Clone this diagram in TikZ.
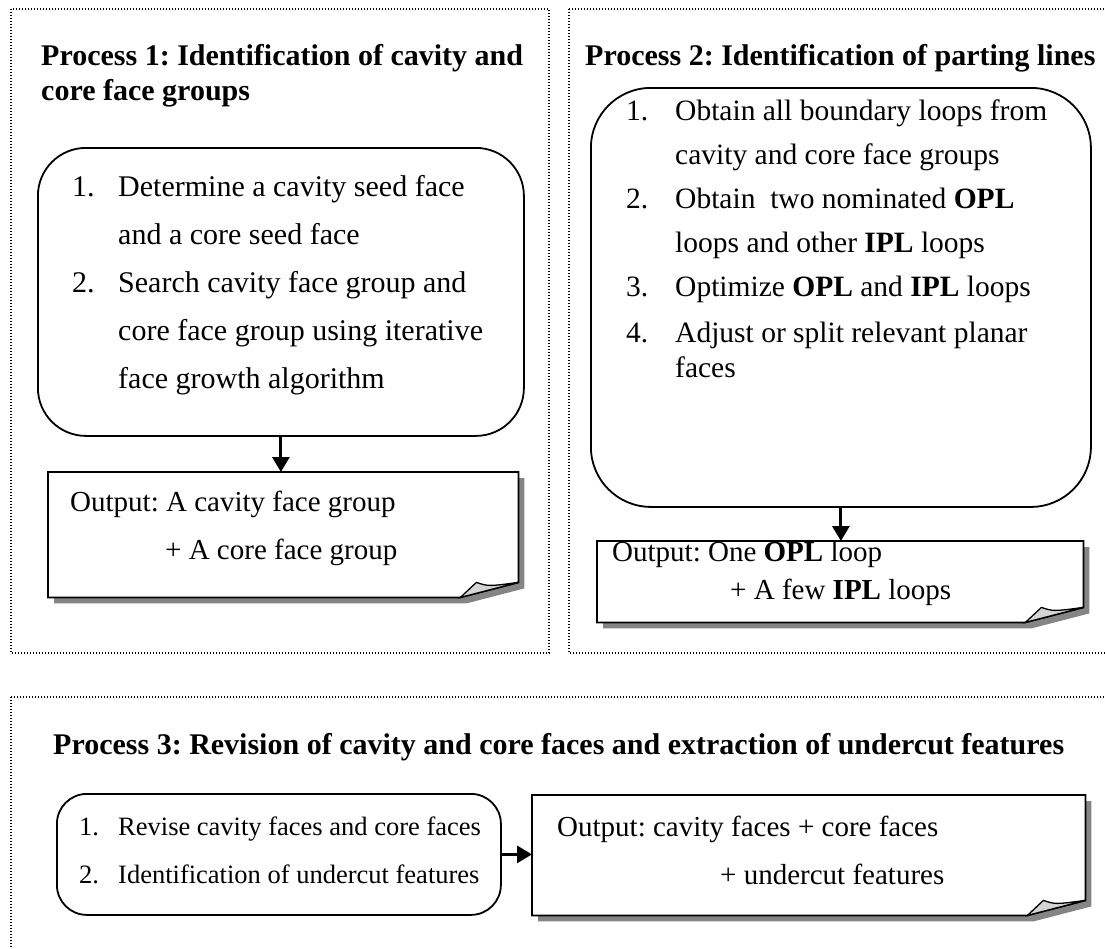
\documentclass[tikz,border=0pt]{standalone}
\usepackage{fontspec}
\setmainfont{Liberation Serif}
\usetikzlibrary{arrows.meta,calc}
\definecolor{shadowgray}{HTML}{858585}
\definecolor{foldgray}{HTML}{D4D4D4}
\frenchspacing
\tikzset{
  panel/.style={line width=1.4pt, dash pattern=on 1.4pt off 1.6pt},
  rbox/.style={draw, line width=1.8pt, anchor=north west, inner sep=0pt},
  frame/.style={anchor=north west, inner sep=0pt},
  txt/.style={anchor=base west, inner sep=0pt, font=\fontsize{29.5}{34}\selectfont},
  bigtxt/.style={anchor=base west, inner sep=0pt, font=\fontsize{30}{34}\selectfont},
  smalltxt/.style={anchor=base west, inner sep=0pt, font=\fontsize{26.5}{32}\selectfont},
  notetxt/.style={anchor=base west, inner sep=0pt, font=\fontsize{29}{34}\selectfont},
  ttl/.style={anchor=base west, inner sep=0pt, font=\fontsize{30}{36}\selectfont\bfseries},
  arr/.style={line width=3pt, -{Triangle[length=15pt,width=17pt]}},
}
\newcommand{\drawnote}[1]{%
  \fill[shadowgray] ([shift={(6,6)}]#1.north west) -- ([shift={(6,6)}]#1.north east)
     -- ([shift={(6,-9)}]#1.south east) -- ([shift={(-52,6)}]#1.south east)
     -- ([shift={(6,6)}]#1.south west) -- cycle;
  \draw[line width=1.8pt, fill=white] (#1.north west) -- (#1.north east)
     -- ([shift={(0,-15)}]#1.south east) -- ([shift={(-58,0)}]#1.south east)
     -- (#1.south west) -- cycle;
  \draw[line width=1.3pt, fill=foldgray] ([shift={(-58,0)}]#1.south east)
     -- ([shift={(-42,-15)}]#1.south east)
     .. controls ([shift={(-30,-11)}]#1.south east) .. ([shift={(0,-15)}]#1.south east) -- cycle;
}
\begin{document}
\begin{tikzpicture}[x=1pt,y=-1pt]
\useasboundingbox (0,0) rectangle (1105,948);
\clip (0,0) rectangle (1105,948);
% panels
\draw[panel] (11,9) rectangle (549,653);
\draw[panel] (569,9) rectangle (1115,653);
\draw[panel] (11,697) rectangle (1115,960);

% ---------- Process 1
\node[ttl] (t1a) at (41,65) {Process 1: Identification of cavity and};
\node[ttl] (t1b) at (41,100) {core face groups};
\node[rbox, rounded corners=48pt, minimum width=486pt, minimum height=288pt] (b1) at (37,147) {};
\node[bigtxt] (p1n1) at (72,196) {1.};
\node[bigtxt] (p1l1) at (118,196) {Determine a cavity seed face};
\node[bigtxt] (p1l2) at (118,244) {and a core seed face};
\node[bigtxt] (p1n2) at (72,292) {2.};
\node[bigtxt] (p1l3) at (118,292) {Search cavity face group and};
\node[bigtxt] (p1l4) at (118,340) {core face group using iterative};
\node[bigtxt] (p1l5) at (118,388) {face growth algorithm};
\node[frame, minimum width=470pt, minimum height=125pt] (n1) at (48,472) {};
\drawnote{n1}
\node[notetxt] (o1a) at (70,511) {Output: A cavity face group};
\node[notetxt] (o1b) at (165,559) {+ A core face group};
\draw[arr] (b1.south) -- (b1.south |- n1.north);

% ---------- Process 2
\node[ttl] (t2) at (585,65) {Process 2: Identification of parting lines};
\node[rbox, rounded corners=60pt, minimum width=500pt, minimum height=419pt] (b2) at (590,87) {};
\node[txt] (p2n1) at (626,120) {1.};
\node[txt] (p2l1) at (675,120) {Obtain all boundary loops from};
\node[txt] (p2l2) at (675,164) {cavity and core face groups};
\node[txt] (p2n2) at (626,208) {2.};
\node[txt] (p2l3) at (675,208) {Obtain \ two nominated \textbf{OPL}};
\node[txt] (p2l4) at (675,252) {loops and other \textbf{IPL} loops};
\node[txt] (p2n3) at (626,296) {3.};
\node[txt] (p2l5) at (675,296) {Optimize \textbf{OPL} and \textbf{IPL} loops};
\node[txt] (p2n4) at (626,342) {4.};
\node[txt] (p2l6) at (675,342) {Adjust or split relevant planar};
\node[txt] (p2l7) at (675,377) {faces};
\node[frame, minimum width=486pt, minimum height=81pt] (n2) at (597,541) {};
\drawnote{n2}
\node[notetxt] (o2a) at (612,561) {Output: One \textbf{OPL} loop};
\node[notetxt] (o2b) at (730,599) {+ A few \textbf{IPL} loops};
\draw[arr] (b2.south) -- (b2.south |- n2.north);

% ---------- Process 3
\node[ttl] (t3) at (53,754) {Process 3: Revision of cavity and core faces and extraction of undercut features};
\node[rbox, rounded corners=30pt, minimum width=444pt, minimum height=121pt] (b3) at (56,793) {};
\node[smalltxt] (p3n1) at (79,835) {1.};
\node[smalltxt] (p3l1) at (118,835) {Revise cavity faces and core faces};
\node[smalltxt] (p3n2) at (79,883) {2.};
\node[smalltxt] (p3l2) at (118,883) {Identification of undercut features};
\node[frame, minimum width=553pt, minimum height=120pt] (n3) at (532,795) {};
\drawnote{n3}
\node[notetxt] (o3a) at (557,836) {Output: cavity faces + core faces};
\node[notetxt] (o3b) at (720,884) {+ undercut features};
\draw[arr] (b3.east) -- (b3.east -| n3.west);
\end{tikzpicture}
\end{document}
